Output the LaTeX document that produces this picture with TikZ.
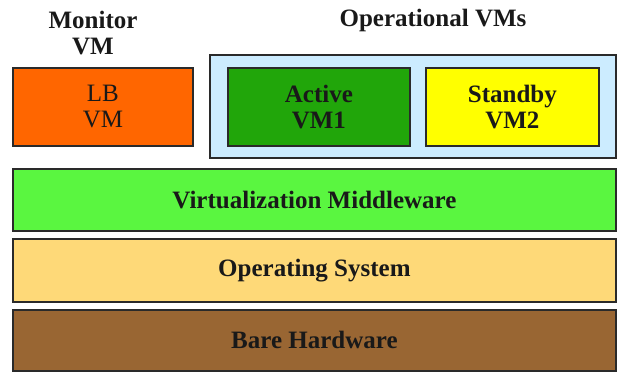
\documentclass[tikz,border=0pt]{standalone}
\usepackage{fontspec}
\setmainfont{Liberation Serif}
\definecolor{lborange}{HTML}{FF6600}
\definecolor{actgreen}{HTML}{21A60A}
\definecolor{sbyellow}{HTML}{FFFF00}
\definecolor{opblue}{HTML}{CCECFF}
\definecolor{mwgreen}{HTML}{5AF640}
\definecolor{ostan}{HTML}{FED978}
\definecolor{hwbrown}{HTML}{996633}
\definecolor{edge}{HTML}{2A2A2A}
\tikzset{
  layer/.style={draw=edge, line width=1.8pt, inner sep=0pt, anchor=north west},
  boxlabel/.style={font=\fontsize{25}{26}\selectfont\bfseries, align=center, text=black!90},
  plainlabel/.style={font=\fontsize{25}{26}\selectfont, align=center, text=black!90},
}
\begin{document}
\begin{tikzpicture}[x=1pt, y=-1pt]
  \useasboundingbox (0,0) rectangle (623,372);
  % group captions
  \node[boxlabel] (moncap) at (93,33) {Monitor\\VM};
  \node[boxlabel] (opcap) at (433,20) {Operational VMs};
  % container of the operational VMs
  \node[layer, fill=opblue, minimum width=406pt, minimum height=103pt] (opgroup) at (209,54) {};
  % virtual machines
  \node[layer, fill=lborange, minimum width=180pt, minimum height=78pt] (lb) at (12,67) {};
  \node[plainlabel] at (lb.center) {LB\\VM};
  \node[layer, fill=actgreen, minimum width=182pt, minimum height=78pt] (act) at (227,67) {};
  \node[boxlabel] at (act.center) {Active\\VM1};
  \node[layer, fill=sbyellow, minimum width=173pt, minimum height=78pt] (sby) at (425,67) {};
  \node[boxlabel] at (sby.center) {Standby\\VM2};
  % stacked layers
  \node[layer, fill=mwgreen, minimum width=603pt, minimum height=62pt] (mw) at (12,168) {};
  \node[boxlabel] at (mw.center) {Virtualization Middleware};
  \node[layer, fill=ostan, minimum width=603pt, minimum height=63pt] (os) at (12,238) {};
  \node[boxlabel] at (os.center) {Operating System};
  \node[layer, fill=hwbrown, minimum width=603pt, minimum height=61pt] (hw) at (12,309) {};
  \node[boxlabel] at (hw.center) {Bare Hardware};
\end{tikzpicture}
\end{document}
